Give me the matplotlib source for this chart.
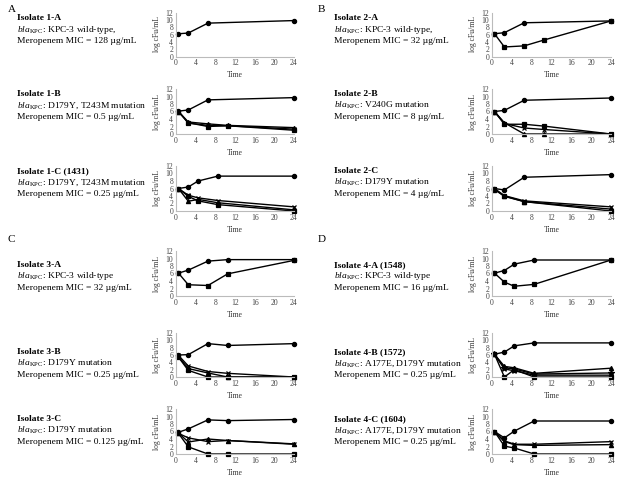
import matplotlib
matplotlib.use("Agg")
import matplotlib.pyplot as plt

plt.rcParams['font.family'] = ['Liberation Serif', 'DejaVu Serif']
plt.rcParams['mathtext.fontset'] = 'custom'
plt.rcParams['mathtext.rm'] = 'Liberation Serif'
plt.rcParams['mathtext.it'] = 'Liberation Serif:italic'
plt.rcParams['mathtext.bf'] = 'Liberation Serif:bold'

W, H = 622, 478

# time points (h)
t_a = [0.5, 2.5, 6.5, 24]
t_b = [0.5, 2.5, 6.5, 10.5, 24]
t_c = [0.5, 2.5, 4.5, 8.5, 24]

# panel data: growth control first, then drug-exposed series
p1a = [(t_a, [6.2, 6.4, 9.1, 9.8])]
p1b = [(t_a, [6.1, 6.4, 9.1, 9.7]),
       (t_b, [6.0, 3.0, 2.0, 2.2, 1.0]),
       (t_b, [6.0, 3.2, 2.7, 2.3, 1.7]),
       (t_b, [6.0, 2.9, 2.3, 2.2, 1.3])]
p1c = [(t_c, [6.0, 6.4, 8.0, 9.3, 9.3]),
       (t_c, [6.0, 3.9, 2.7, 1.7, 0.0]),
       (t_c, [6.0, 2.6, 3.1, 2.2, 0.3]),
       (t_c, [6.0, 4.2, 3.5, 2.8, 1.1])]
p2a = [(t_a, [6.2, 6.5, 9.2, 9.7]),
       (t_b, [6.2, 2.6, 2.9, 4.5, 9.7])]
p2b = [(t_a, [6.0, 6.3, 9.0, 9.6]),
       (t_b, [6.0, 2.6, 2.6, 2.1, 0.0]),
       (t_b, [6.0, 3.0, 0.0, 0.0, 0.0]),
       (t_b, [6.0, 2.8, 1.6, 1.2, 0.0])]
p2c = [(t_a, [6.0, 5.6, 9.0, 9.7]),
       (t_a, [5.8, 3.9, 2.5, 0.0]),
       (t_a, [5.7, 4.0, 2.5, 0.5]),
       (t_a, [6.0, 4.1, 2.7, 1.1])]
p3a = [(t_b, [6.1, 6.9, 9.3, 9.7, 9.7]),
       (t_b, [6.1, 3.0, 2.8, 5.9, 9.5])]
p3b = [(t_b, [6.0, 6.1, 9.1, 8.6, 9.1]),
       (t_b, [5.4, 1.8, 0.0, 0.0, 0.0]),
       (t_b, [5.6, 2.3, 1.1, 0.0, 0.0]),
       (t_b, [5.9, 3.0, 1.5, 1.0, 0.0])]
p3c = [(t_b, [5.8, 6.7, 9.1, 8.9, 9.2]),
       (t_b, [5.5, 1.9, 0.0, 0.0, 0.0]),
       (t_b, [5.6, 3.2, 4.0, 3.6, 2.6]),
       (t_b, [5.5, 4.3, 3.3, 3.6, 2.7])]
p4a = [(t_c, [6.1, 6.8, 8.5, 9.6, 9.6]),
       (t_c, [6.1, 3.7, 2.6, 3.1, 9.6])]
p4b = [(t_c, [6.2, 6.8, 8.5, 9.3, 9.3]),
       (t_c, [6.2, 0.0, 2.0, 0.0, 0.0]),
       (t_c, [6.2, 2.9, 2.5, 1.0, 2.4]),
       (t_c, [6.2, 2.2, 1.7, 0.5, 0.5]),
       (t_c, [6.2, 2.5, 2.2, 0.8, 1.1])]
p4c = [(t_c, [6.0, 4.3, 6.1, 8.8, 8.8]),
       (t_c, [6.0, 2.1, 1.6, 0.0, 0.0]),
       (t_c, [6.0, 3.3, 2.5, 2.3, 2.5]),
       (t_c, [6.0, 3.5, 2.6, 2.6, 3.3])]

isolates = ["Isolate 1-A", "Isolate 1-B", "Isolate 1-C (1431)",
            "Isolate 2-A", "Isolate 2-B", "Isolate 2-C",
            "Isolate 3-A", "Isolate 3-B", "Isolate 3-C",
            "Isolate 4-A (1548)", "Isolate 4-B (1572)", "Isolate 4-C (1604)"]
genotypes = ["KPC-3 wild-type,", "D179Y, T243M mutation", "D179Y, T243M mutation",
             "KPC-3 wild-type,", "V240G mutation", "D179Y mutation",
             "KPC-3 wild-type", "D179Y mutation", "D179Y mutation",
             "KPC-3 wild-type", "A177E, D179Y mutation", "A177E, D179Y mutation"]
mics = ["128", "0.5", "0.25", "32", "8", "4",
        "32", "0.25", "0.125", "16", "0.25", "0.25"]
panels = [p1a, p1b, p1c, p2a, p2b, p2c, p3a, p3b, p3c, p4a, p4b, p4c]
group_letters = ["A", "B", "C", "D"]

markers = ['o', 's', '^', 'x', '*']

# pixel layout
col_x = [(176, 294), (492, 611)]
text_x = [17, 334]
row_y = [[(12.5, 56.5), (89, 134), (166, 211)],
         [(251, 296), (333, 377), (409, 454)]]
text_y = [[18, 94, 171], [265, 352, 419]]
letter_pos = [(8, 10), (318, 10), (8, 240), (318, 240)]

fig = plt.figure(figsize=(W / 100, H / 100), dpi=100)

for g in range(4):
    col = g % 2
    blk = g // 2
    lx, ly = letter_pos[g]
    fig.text(lx / W, 1 - ly / H, group_letters[g], fontsize=8, va='center')
    for r in range(3):
        i = g * 3 + r
        x0, x1 = col_x[col]
        yt, yb = row_y[blk][r]
        ax = fig.add_axes([x0 / W, 1 - yb / H, (x1 - x0) / W, (yb - yt) / H])
        for k, (t, y) in enumerate(panels[i]):
            m = markers[k]
            ax.plot(t, y, color='black', lw=1.0, marker=m,
                    ms=3.0 if m != '*' else 4, mew=0.9, clip_on=False)
        ax.set_xlim(0, 24)
        ax.set_ylim(0, 12)
        ax.set_xticks(range(0, 25, 4))
        ax.set_yticks(range(0, 13, 2))
        ax.tick_params(labelsize=5.5, length=0, pad=2, colors='#444444')
        for s in ['top', 'right']:
            ax.spines[s].set_visible(False)
        for s in ['left', 'bottom']:
            ax.spines[s].set_color('#bbbbbb')
            ax.spines[s].set_linewidth(0.8)
        ax.set_ylabel("log cFu/mL", fontsize=5.5, labelpad=3, color='#333333')
        ax.set_xlabel("Time", fontsize=5.5, labelpad=3, color='#333333')

        tx = text_x[col] / W
        ty = text_y[blk][r]
        fig.text(tx, 1 - ty / H, isolates[i], fontsize=6.8, fontweight='bold', va='center')
        fig.text(tx, 1 - (ty + 11.5) / H, r'$\it{bla}_{\rm KPC}$: ' + genotypes[i],
                 fontsize=6.8, va='center')
        fig.text(tx, 1 - (ty + 23) / H, "Meropenem MIC = " + mics[i] + " \u00b5g/mL",
                 fontsize=6.8, va='center')

fig.savefig("out.png", dpi=100)
